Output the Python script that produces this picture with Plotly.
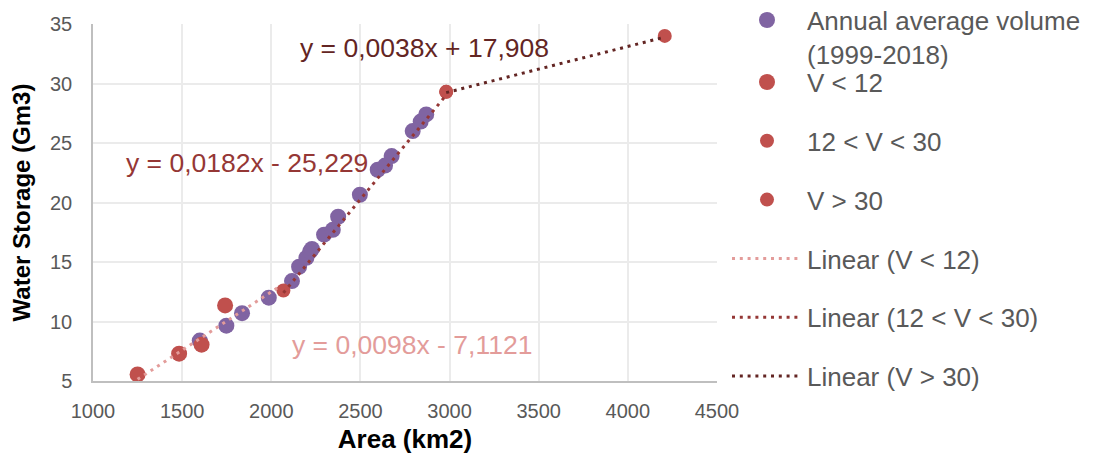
import plotly.graph_objects as go

# ---------------- data ----------------
area_avg = [1599, 1748, 1836, 1986, 2116, 2156, 2197, 2218, 2228, 2296, 2345, 2375,
            2497, 2597, 2638, 2675, 2793, 2838, 2869]
vol_avg = [8.4, 9.65, 10.7, 12.0, 13.4, 14.6, 15.35, 15.9, 16.1, 17.3, 17.7, 18.8,
           20.65, 22.75, 23.1, 23.9, 26.0, 26.8, 27.4]

area_low = [1250, 1483, 1609, 1741]
vol_low = [5.55, 7.3, 8.05, 11.35]

area_mid = [2068, 2981]
vol_mid = [12.6, 29.3]

area_high = [2981, 4207]
vol_high = [29.3, 34.0]

# linear trendlines as printed on the chart: (slope, intercept)
trend_low = (0.0098, -7.1121)
trend_mid = (0.0182, -25.229)
trend_high = (0.0038, 17.908)
trend_low_x = [1250, 2040]
trend_mid_x = [min(area_mid), max(area_mid)]
trend_high_x = [min(area_high), max(area_high)]

eq_low = "y = 0,0098x - 7,1121"
eq_mid = "y = 0,0182x - 25,229"
eq_high = "y = 0,0038x + 17,908"

x_ticks = [1000, 1500, 2000, 2500, 3000, 3500, 4000, 4500]
y_ticks = [5, 10, 15, 20, 25, 30, 35]

# ---------------- styling ----------------
FONT = "Arial, Liberation Sans, sans-serif"
PURPLE = "#8064A2"
RED = "#C0504D"
C_LOW = "#E39C9A"
C_MID = "#953735"
C_HIGH = "#632523"
DOT = "3px,4.8px"

fig = go.Figure()

fig.add_trace(go.Scatter(x=area_avg, y=vol_avg, mode="markers",
                         name="Annual average volume<br>(1999-2018)",
                         marker=dict(color=PURPLE, size=16), legend="legend"))
fig.add_trace(go.Scatter(x=area_low, y=vol_low, mode="markers", name="V < 12",
                         legend="legend2", legendgroup="a",
                         marker=dict(color=RED, size=16)))
fig.add_trace(go.Scatter(x=area_mid, y=vol_mid, mode="markers", name="12 < V < 30",
                         legend="legend2", legendgroup="b",
                         marker=dict(color=RED, size=14)))
fig.add_trace(go.Scatter(x=area_high, y=vol_high, mode="markers", name="V > 30",
                         legend="legend2", legendgroup="c",
                         marker=dict(color=RED, size=14)))


def line_y(coef, xs):
    return [coef[0] * x + coef[1] for x in xs]


fig.add_trace(go.Scatter(x=trend_low_x, y=line_y(trend_low, trend_low_x), mode="lines",
                         name="Linear (V < 12)", legend="legend2", legendgroup="d",
                         line=dict(color=C_LOW, width=3, dash=DOT)))
fig.add_trace(go.Scatter(x=trend_mid_x, y=line_y(trend_mid, trend_mid_x), mode="lines",
                         name="Linear (12 < V < 30)", legend="legend2", legendgroup="e",
                         line=dict(color=C_MID, width=3, dash=DOT)))
fig.add_trace(go.Scatter(x=trend_high_x, y=line_y(trend_high, trend_high_x), mode="lines",
                         name="Linear (V > 30)", legend="legend2", legendgroup="f",
                         line=dict(color=C_HIGH, width=3, dash=DOT)))

annots = [
    dict(x=2859, y=32.95, text=eq_high, font=dict(color=C_HIGH, size=26.5, family=FONT)),
    dict(x=1862, y=23.3, text=eq_mid, font=dict(color=C_MID, size=26.5, family=FONT)),
    dict(x=2792, y=8.05, text=eq_low, font=dict(color=C_LOW, size=26.5, family=FONT)),
]
for a in annots:
    fig.add_annotation(xref="x", yref="y", showarrow=False, **a)

PLOT_L, PLOT_R, PLOT_T, PLOT_B = 93, 717, 24, 381
PW, PH = PLOT_R - PLOT_L, PLOT_B - PLOT_T
leg_x = (727 - PLOT_L) / PW

legend_common = dict(xref="paper", yref="paper", xanchor="left", yanchor="top",
                     x=leg_x, font=dict(size=26, color="#595959", family=FONT),
                     itemwidth=70, valign="top", bgcolor="rgba(0,0,0,0)", borderwidth=0)

fig.update_layout(
    width=1093, height=454,
    margin=dict(l=PLOT_L, r=1093 - PLOT_R, t=PLOT_T, b=454 - PLOT_B, autoexpand=False),
    paper_bgcolor="white", plot_bgcolor="white",
    font=dict(family=FONT, color="#595959"),
    showlegend=True,
    legend=dict(y=1 + (PLOT_T + 3.4) / PH, **legend_common),
    legend2=dict(y=1 - (58.6 - PLOT_T) / PH, traceorder="grouped", tracegroupgap=22,
                 **legend_common),
    xaxis=dict(range=[1000, 4500], tickvals=x_ticks, ticktext=[str(v) for v in x_ticks],
               showgrid=True, gridcolor="#EBEBEB", gridwidth=1.5,
               showline=True, linecolor="#BFBFBF", linewidth=1.5, zeroline=False,
               tickfont=dict(size=20, color="#595959", family=FONT),
               ticklabelstandoff=11,
               title=dict(text="<b>Area (km2)</b>", font=dict(size=26, color="black", family=FONT),
                          standoff=12)),
    yaxis=dict(range=[5, 35], tickvals=y_ticks, ticktext=[str(v) for v in y_ticks],
               showgrid=True, gridcolor="#EBEBEB", gridwidth=1.5,
               showline=True, linecolor="#BFBFBF", linewidth=1.5, zeroline=False,
               tickfont=dict(size=20, color="#595959", family=FONT),
               ticklabelstandoff=15,
               title=dict(text="<b>Water Storage (Gm3)</b>",
                          font=dict(size=24, color="black", family=FONT), standoff=13)),
)

fig.write_html("out.html")
